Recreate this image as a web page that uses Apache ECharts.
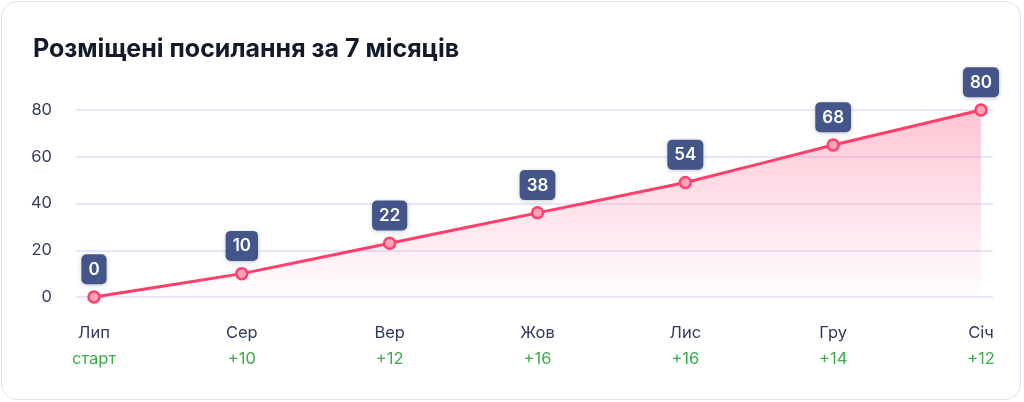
<!DOCTYPE html>
<html>
<head>
<meta charset="utf-8">
<script src="https://cdn.jsdelivr.net/npm/echarts@6/dist/echarts.min.js"></script>
<style>
  html, body { margin: 0; padding: 0; background: #fff; }
  .card { position: absolute; left: 1px; top: 1px; width: 1018px; height: 397px;
          border: 1.5px solid #dde0f6; border-radius: 16px; background: #fff; }
  #main { position: absolute; left: 0; top: 0; width: 1024px; height: 402px; }
</style>
</head>
<body>
<div class="card"></div>
<div id="main"></div>
<script>
// дані графіка
var months = ['Лип', 'Сер', 'Вер', 'Жов', 'Лис', 'Гру', 'Січ'];
var deltas = ['старт', '+10', '+12', '+16', '+16', '+14', '+12'];
var plotted = [0, 10, 23, 36, 49, 65, 80];      // положення точок на картинці
var totals = [0, 10, 22, 38, 54, 68, 80];       // підписи над точками
var yTicks = [0, 20, 40, 60, 80];

var font = 'Inter, "Noto Sans", sans-serif';
var myChart = echarts.init(document.getElementById('main'));

var option = {
    animation: false,
    title: {
        text: 'Розміщені посилання за 7 місяців',
        left: 28,
        top: 32,
        textStyle: { fontFamily: font, fontSize: 25, fontWeight: 'bold', color: '#131a2c' }
    },
    grid: [
        { left: 76, right: 31, top: 110, bottom: 105 },   // сітка і шкала Y
        { left: 94, right: 43, top: 110, bottom: 105 }    // сама лінія
    ],
    xAxis: [
        { gridIndex: 0, type: 'value', min: 0, max: 1, show: false },
        {
            gridIndex: 1,
            type: 'category',
            data: months,
            boundaryGap: false,
            axisLine: { show: false },
            axisTick: { show: false },
            axisLabel: {
                margin: 23,
                formatter: function (v, i) {
                    return '{m|' + v + '}\n{d|' + deltas[i] + '}';
                },
                rich: {
                    m: { fontFamily: font, fontSize: 16.5, color: '#2f3a5c', lineHeight: 26 },
                    d: { fontFamily: font, fontSize: 16.5, color: '#3dab4b', lineHeight: 26 }
                }
            }
        }
    ],
    yAxis: [
        {
            gridIndex: 0,
            type: 'value',
            min: yTicks[0],
            max: yTicks[yTicks.length - 1],
            interval: 20,
            axisLine: { show: false },
            axisTick: { show: false },
            axisLabel: { margin: 24, fontFamily: font, fontSize: 16.5, color: '#36405f' },
            splitLine: { lineStyle: { color: '#dedff7', width: 1.5 } }
        },
        { gridIndex: 1, type: 'value', min: 0, max: 80, show: false }
    ],
    series: [
        {
            type: 'line',
            xAxisIndex: 1,
            yAxisIndex: 1,
            data: plotted,
            smooth: 0.12,
            symbol: 'circle',
            symbolSize: 11,
            itemStyle: { color: '#ffa3b8', borderColor: '#ff3f6c', borderWidth: 2.5 },
            lineStyle: { color: '#ff3f6c', width: 3 },
            areaStyle: {
                color: new echarts.graphic.LinearGradient(0, 0, 0, 1, [
                    { offset: 0, color: 'rgba(255, 105, 145, 0.55)' },
                    { offset: 1, color: 'rgba(255, 105, 145, 0.02)' }
                ])
            },
            label: {
                show: true,
                position: 'top',
                distance: 6,
                formatter: function (p) { return totals[p.dataIndex]; },
                fontFamily: font,
                fontSize: 17,
                fontWeight: 600,
                color: '#fff',
                backgroundColor: '#44558a',
                borderRadius: 5,
                padding: [7, 7, 6, 7],
                shadowBlur: 4,
                shadowColor: 'rgba(30, 40, 80, 0.25)',
                shadowOffsetY: 1
            }
        }
    ]
};

myChart.setOption(option);
</script>
</body>
</html>
